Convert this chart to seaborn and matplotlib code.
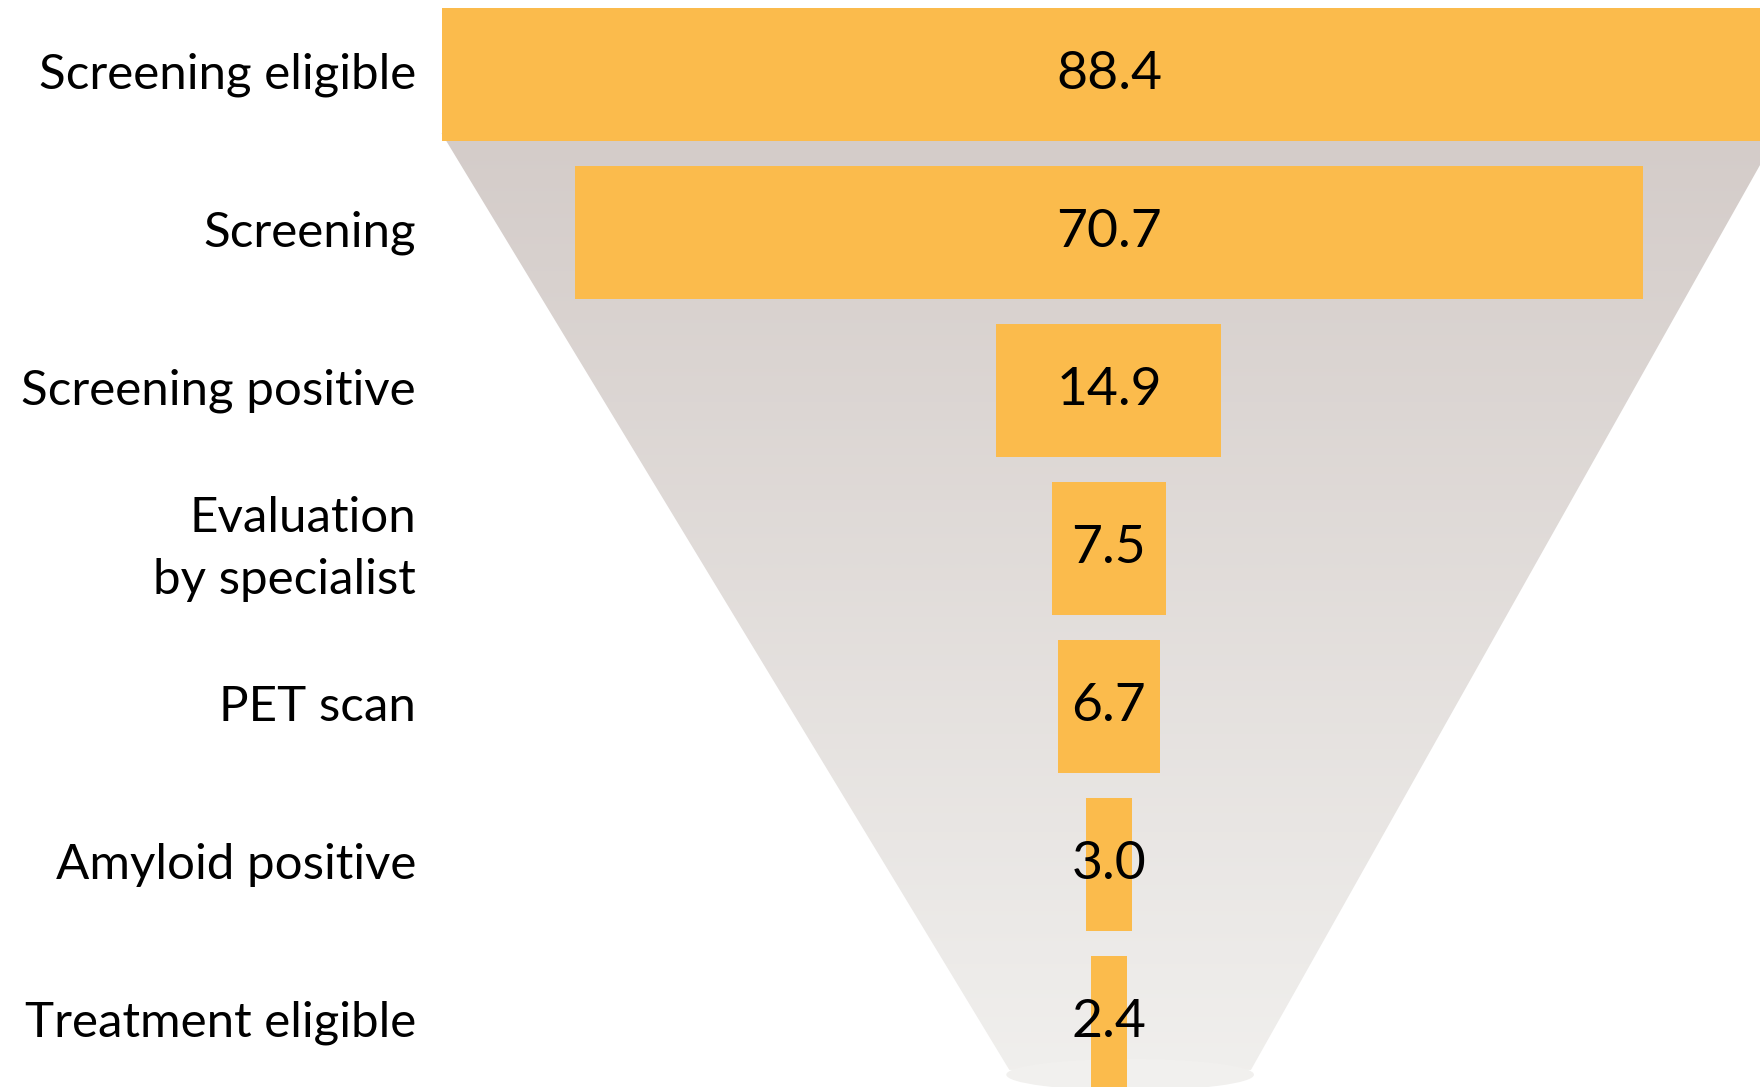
import numpy as np
import pandas as pd
import matplotlib
matplotlib.use("Agg")
import matplotlib.pyplot as plt
import seaborn as sns
from matplotlib.path import Path
from matplotlib.patches import PathPatch, Ellipse
from matplotlib.colors import LinearSegmentedColormap

# Patient funnel (millions)
stages = [
    "Screening eligible",
    "Screening",
    "Screening positive",
    "Evaluation\nby specialist",
    "PET scan",
    "Amyloid positive",
    "Treatment eligible",
]
values = [88.4, 70.7, 14.9, 7.5, 6.7, 3.0, 2.4]

BAR_COLOR = "#FBBB4C"
FUNNEL_TOP = "#D4CCC9"
FUNNEL_BOTTOM = "#F1F0EE"
BAR_HEIGHT = 0.842
LABEL_SIZE = 35.5
VALUE_SIZE = 38.5

sns.set_theme(style="white")
plt.rcParams["font.family"] = ["Lato", "DejaVu Sans"]

W, H = 1760, 1087
fig = plt.figure(figsize=(W / 100, H / 100), dpi=100)
ax = fig.add_axes([432 / W, 0, 1 - 432 / W, 1])

df = pd.DataFrame({"stage": stages, "value": values})
sns.barplot(data=df, x="value", y="stage", orient="h", color=BAR_COLOR,
            saturation=1, width=BAR_HEIGHT, ax=ax, zorder=3)

# centre each bar on x = 0
bars = list(ax.patches)
for bar in bars:
    bar.set_x(-bar.get_width() / 2)
    bar.set_edgecolor("none")

# value labels
for i, v in enumerate(values):
    ax.text(0, i, f"{v:.1f}", ha="center", va="center",
            fontsize=VALUE_SIZE, color="black", zorder=5)

# funnel backdrop: trapezoid from the widest bar down to a narrow spout
half_top = values[0] / 2
y_top = BAR_HEIGHT / 2 - 0.05
y_bot = 6.30
bot_left, bot_right = -6.6, 9.4
poly = Path([(-half_top, y_top), (half_top + 0.1, y_top),
             (bot_right, y_bot), (bot_left, y_bot), (-half_top, y_top)],
            closed=True)

cmap = LinearSegmentedColormap.from_list("funnel", [FUNNEL_TOP, FUNNEL_BOTTOM])
grad = np.linspace(0, 1, 256).reshape(-1, 1)
img = ax.imshow(grad, cmap=cmap, aspect="auto",
                extent=[-half_top - 1, half_top + 1, 6.5, y_top],
                origin="upper", zorder=1, interpolation="bilinear")
clip = PathPatch(poly, transform=ax.transData, facecolor="none", edgecolor="none")
ax.add_patch(clip)
img.set_clip_path(clip)

lip = Ellipse(((bot_left + bot_right) / 2, 6.33), width=bot_right - bot_left + 0.4,
              height=0.20, facecolor=FUNNEL_BOTTOM, edgecolor="none", zorder=1)
ax.add_patch(lip)

ax.set_xlim(-44.83, 43.11)
ax.set_ylim(6.408, -0.4715)

ax.set_xlabel("")
ax.set_ylabel("")
ax.set_xticks([])
ax.set_yticks(range(len(stages)))
ax.set_yticklabels(stages, linespacing=1.5, va="center")
ax.tick_params(axis="y", length=0, pad=11.5, labelsize=LABEL_SIZE, labelcolor="black")
sns.despine(ax=ax, left=True, bottom=True)
ax.set_facecolor("white")
fig.patch.set_facecolor("white")

fig.savefig("out.png", dpi=100, facecolor="white")
